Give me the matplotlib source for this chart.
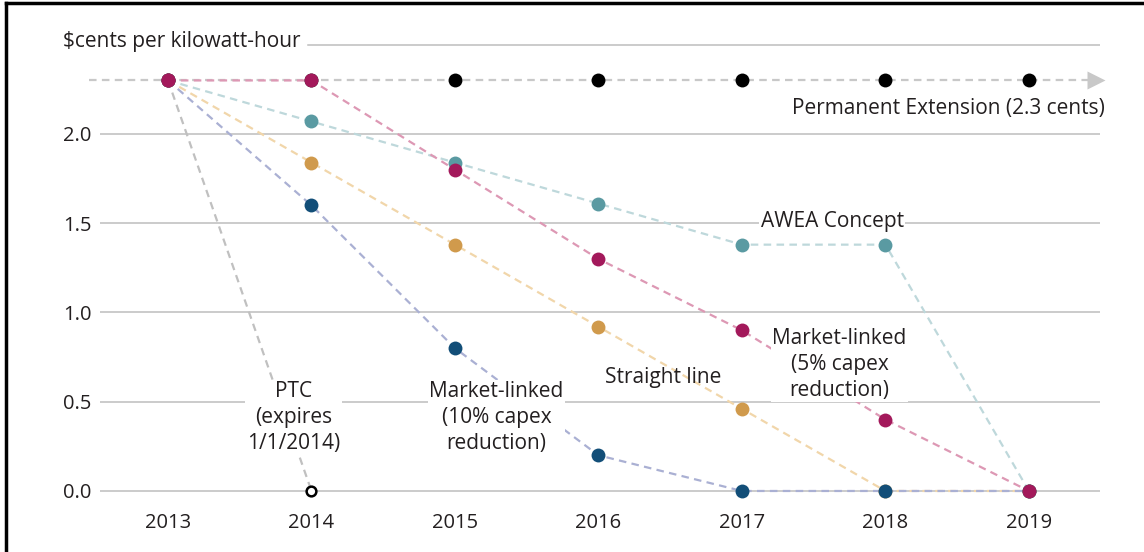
"""Production tax credit phase-out scenarios, cents per kWh by year."""

import matplotlib

matplotlib.use("Agg")
import matplotlib.pyplot as plt
from matplotlib.lines import Line2D

years = [2013, 2014, 2015, 2016, 2017, 2018, 2019]
permanent = [2.3, 2.3, 2.3, 2.3, 2.3, 2.3, 2.3]
ptc_years = [2013, 2014]
ptc = [2.3, 0.0]
awea = [2.3, 2.07, 1.84, 1.61, 1.38, 1.38, 0.0]
straight = [2.3, 1.84, 1.38, 0.92, 0.46, 0.0, 0.0]
market_10 = [2.3, 1.6, 0.8, 0.2, 0.0, 0.0, 0.0]
market_5 = [2.3, 2.3, 1.8, 1.3, 0.9, 0.4, 0.0]
y_ticks = [0.0, 0.5, 1.0, 1.5, 2.0]
y_top = 2.5

TEXT = "#231f20"
GRID = "#bdbdbd"
FONT = "Open Sans"

plt.rcParams["font.family"] = [FONT, "DejaVu Sans"]

fig = plt.figure(figsize=(11.44, 5.52), dpi=100)
ax = fig.add_axes([0.0874, 0.0782, 0.8741, 0.8731])
ax.set_xlim(2012.526, 2019.495)
ax.set_ylim(-0.1, 2.6)
for s in ax.spines.values():
    s.set_visible(False)

# gridlines
for v in y_ticks:
    ax.axhline(v, color=GRID, lw=1.1, zorder=0)
ax.axhline(y_top, xmin=0.208, color=GRID, lw=1.1, zorder=0)

ax.set_yticks(y_ticks)
ax.set_yticklabels([f"{v:.1f}" for v in y_ticks])
ax.set_xticks(years)
ax.set_xticklabels([str(y) for y in years])
ax.tick_params(length=0, labelsize=14.5, labelcolor=TEXT)
ax.tick_params(axis="y", pad=6)
ax.tick_params(axis="x", pad=3)

dash = dict(ls=(0, (3.4, 2.4)), lw=1.6, zorder=1)

# permanent extension: line runs off both ends to an arrow
ax.plot([2012.45, 2019.42], [permanent[0], permanent[-1]], color="#c8c8c8", clip_on=False, **dash)
ax.plot([2019.47], [permanent[-1]], marker=">", ms=13, color="#c8c8c8", mec="none",
        clip_on=False, zorder=1)
ax.plot(years, permanent, "o", color="black", ms=10, mec="none", zorder=3, clip_on=False)

series = [
    (years, awea, "#bed8db", "#5a9aa2"),
    (years, straight, "#f1d6aa", "#d09a4c"),
    (years, market_10, "#aab0d3", "#124e78"),
    (years, market_5, "#dd98b4", "#a3195b"),
]
for xs, ys, lc, mc in series:
    ax.plot(xs, ys, color=lc, clip_on=False, **dash)
for xs, ys, lc, mc in series:
    ax.plot(xs, ys, "o", color=mc, ms=10, mec="none", zorder=4, clip_on=False)

# PTC expires
ax.plot(ptc_years, ptc, color="#c0c0c0", clip_on=False, **dash)
ax.plot(ptc_years[-1:], ptc[-1:], "o", ms=7, mfc="white", mec="black", mew=1.8,
        zorder=5, clip_on=False)
ax.plot(ptc_years[:1], ptc[:1], "o", color="#a3195b", ms=10, mec="none", zorder=5)

lbl = dict(fontsize=15, color=TEXT, ha="center", va="center", linespacing=1.3, zorder=6)
box = dict(facecolor="white", edgecolor="none", pad=1)
ax.text(2013.875, 0.41, "PTC\n(expires\n1/1/2014)", bbox=box, **lbl)
ax.text(2015.29, 0.41, "Market-linked\n(10% capex\nreduction)", bbox=box, **lbl)
ax.text(2016.45, 0.635, "Straight line", **lbl)
ax.text(2017.68, 0.71, "Market-linked\n(5% capex\nreduction)", bbox=box, **lbl)
ax.text(2017.63, 1.51, "AWEA Concept", bbox=box, **lbl)
ax.text(2019.53, 2.14, "Permanent Extension (2.3 cents)", fontsize=15, color=TEXT,
        ha="right", va="center", zorder=6)
ax.text(2012.27, 2.52, "$cents per kilowatt-hour", fontsize=15, color=TEXT,
        ha="left", va="center", zorder=6)

# frame edges (left and top)
fig.add_artist(Line2D([0.005, 0.005], [0.0, 0.995], color="black", lw=2.5))
fig.add_artist(Line2D([0.005, 1.0], [0.995, 0.995], color="black", lw=2.5))

fig.savefig("out.png", dpi=100)
